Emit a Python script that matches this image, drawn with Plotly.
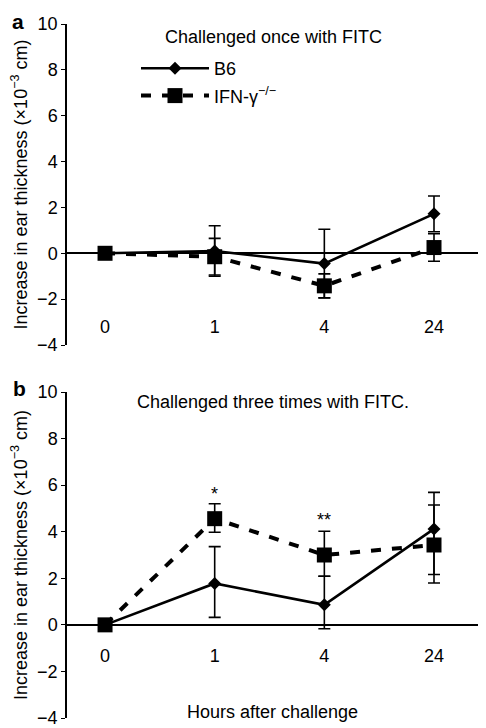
import plotly.graph_objects as go

# ---- data ----
hours = ["0", "1", "4", "24"]
xpos = [0, 1, 2, 3]

# Panel a: challenged once
a_b6 = [0.0, 0.1, -0.45, 1.72]
a_b6_err = [0.0, 1.1, 1.5, 0.78]
a_ifn = [0.0, -0.15, -1.42, 0.25]
a_ifn_err = [0.0, 0.8, 0.52, 0.6]

# Panel b: challenged three times
b_b6 = [0.0, 1.78, 0.86, 4.12]
b_b6_err_plus = [0.0, 1.58, 1.23, 1.57]
b_b6_err_minus = [0.0, 1.46, 1.03, 1.96]
b_ifn = [0.0, 4.56, 3.0, 3.43]
b_ifn_err_plus = [0.0, 0.64, 1.02, 1.72]
b_ifn_err_minus = [0.0, 0.58, 0.91, 1.63]

sig_x = [1, 2]
sig_y = [5.6, 4.5]
sig_text = ["*", "**"]

yticks = [-4, -2, 0, 2, 4, 6, 8, 10]

# page has an 8px body margin; lay out the figure so it fills the rest
OFF = 8
W, H = 486 - OFF, 728 - OFF
FONT = "Liberation Sans, Arial, sans-serif"
FS = 18

def px_x(p):
    return (p - OFF) / W

def px_y(p):
    return 1 - (p - OFF) / H

fig = go.Figure()

def add_panel(b6, b6p, b6m, ifn, ifnp, ifnm, xa, ya, legend):
    fig.add_trace(go.Scatter(
        x=xpos, y=b6, name="B6", mode="lines+markers", legendgroup="b6",
        line=dict(color="black", width=2.6),
        marker=dict(symbol="diamond", size=10, color="black"),
        error_y=dict(type="data", symmetric=False, array=b6p, arrayminus=b6m,
                     color="black", thickness=1.6, width=6),
        xaxis=xa, yaxis=ya, showlegend=legend))
    fig.add_trace(go.Scatter(
        x=xpos, y=ifn, name="IFN-γ<sup>−/−</sup>", mode="lines+markers", legendgroup="ifn",
        line=dict(color="black", width=4, dash="10px,11px"),
        marker=dict(symbol="square", size=15, color="black"),
        error_y=dict(type="data", symmetric=False, array=ifnp, arrayminus=ifnm,
                     color="black", thickness=1.6, width=6),
        xaxis=xa, yaxis=ya, showlegend=legend))

add_panel(a_b6, a_b6_err, a_b6_err, a_ifn, a_ifn_err, a_ifn_err, "x", "y", True)
add_panel(b_b6, b_b6_err_plus, b_b6_err_minus, b_ifn, b_ifn_err_plus, b_ifn_err_minus, "x2", "y2", False)

xdom = [px_x(66), px_x(484)]
xrange_ = [-0.356, 3.456]

common_x = dict(range=xrange_, domain=xdom, tickvals=xpos, ticktext=hours,
                showline=False, showgrid=False, zeroline=False, ticks="",
                automargin=False,
                tickfont=dict(size=FS, color="black", family=FONT), anchor="free")
common_y = dict(range=[-4, 10], tickvals=yticks, showline=True, linecolor="black",
                linewidth=1.5, ticks="outside", ticklen=4, tickcolor="black",
                showgrid=False, zeroline=True, zerolinecolor="black", zerolinewidth=1.5,
                automargin=False, ticklabeloverflow="allow",
                tickfont=dict(size=FS, color="black", family=FONT), anchor="free",
                position=px_x(66))
ytitle = dict(text="Increase in ear thickness (×10<sup>−3</sup> cm)",
              font=dict(size=FS, color="black", family=FONT), standoff=4)

fig.update_layout(
    template="none",
    width=W, height=H, margin=dict(l=0, r=0, t=0, b=0, pad=0, autoexpand=False),
    paper_bgcolor="white", plot_bgcolor="white",
    font=dict(family=FONT, color="black"),
    xaxis=dict(**common_x, position=px_y(314)),
    yaxis=dict(**common_y, domain=[px_y(345), px_y(24)], title=ytitle),
    xaxis2=dict(**common_x, position=px_y(643)),
    yaxis2=dict(**common_y, domain=[px_y(718), px_y(392)], title=ytitle),
    legend=dict(x=px_x(136), y=px_y(50), xanchor="left", yanchor="top",
                itemwidth=68, font=dict(size=FS, color="black", family=FONT),
                bgcolor="rgba(0,0,0,0)", tracegroupgap=1),
    showlegend=True,
)

annos = [
    dict(text="<b>a</b>", x=px_x(18), y=1.0, size=21, ya="top"),
    dict(text="<b>b</b>", x=px_x(19), y=px_y(388), size=21, ya="middle"),
    dict(text="Challenged once with FITC", x=px_x(273), y=px_y(37), size=FS, ya="middle"),
    dict(text="Challenged three times with FITC.", x=px_x(273), y=px_y(402), size=FS, ya="middle"),
    dict(text="Hours after challenge", x=px_x(272), y=px_y(712), size=FS, ya="middle"),
]
for a in annos:
    fig.add_annotation(xref="paper", yref="paper", showarrow=False,
                       xanchor="center", yanchor=a["ya"],
                       text=a["text"], x=a["x"], y=a["y"],
                       font=dict(family=FONT, color="black", size=a["size"]))

for sx, sy, st in zip(sig_x, sig_y, sig_text):
    fig.add_annotation(xref="x2", yref="y2", x=sx, y=sy, text=st, showarrow=False,
                       font=dict(family=FONT, color="black", size=FS))

fig.write_html("out.html")
